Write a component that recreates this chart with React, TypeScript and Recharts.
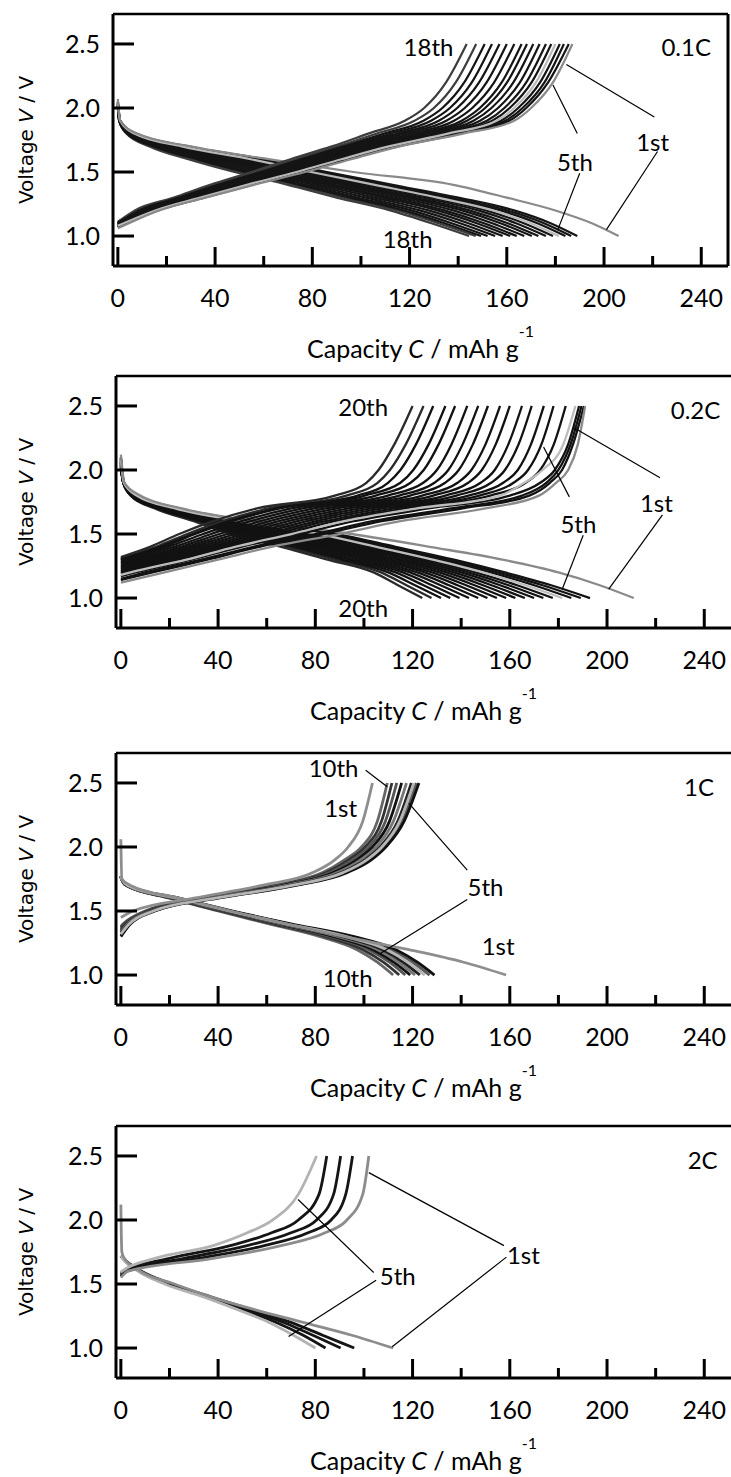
import React from 'react';
import { LineChart, Line, XAxis, YAxis, ReferenceDot, ReferenceLine } from 'recharts';

const FONT = "Lato, 'Open Sans', sans-serif";
const YLABEL_FONT = "'DejaVu Sans', Verdana, sans-serif";

const X_TICKS = [0, 20, 40, 60, 80, 100, 120, 140, 160, 180, 200, 220, 240];
const Y_TICKS = [1.0, 1.5, 2.0, 2.5];
const X_DOMAIN: [number, number] = [-2, 251];
const Y_DOMAIN: [number, number] = [0.766, 2.734];

type N = number | null;

// ---------------- Panel 1 : 0.1C (18 cycles) ----------------
const P1_CHG_LEVELS = [1.2, 1.3, 1.4, 1.5, 1.6, 1.7, 1.8, 1.9, 2.0, 2.2, 2.5];
const P1_CHG_START = [1.06, 1.07, 1.07, 1.07, 1.08, 1.08, 1.08, 1.08, 1.09, 1.09, 1.09, 1.09, 1.10, 1.10, 1.10, 1.10, 1.11, 1.11];
const P1_CHG_CAP: N[][] = [
  [17, 36, 56, 77, 96, 116, 142, 163, 170, 179, 187],
  [16.5, 35.5, 55, 76, 95, 115, 140.5, 161, 168, 177, 185.5],
  [16.2, 35, 54.6, 75.2, 94, 113.8, 138.9, 159.4, 166.5, 175.5, 183.5],
  [15.8, 34.4, 53.8, 74.4, 93, 112.6, 137.3, 157.6, 164.7, 173.7, 181.8],
  [15.4, 33.9, 53.1, 73.5, 92, 111.5, 135.8, 155.8, 163, 172, 180],
  [15, 33.4, 52.4, 72.6, 91, 110.4, 134.2, 154, 161.2, 170.2, 178.3],
  [14.5, 32.8, 51.5, 71.5, 89.8, 109, 132.3, 151.8, 159, 168, 176.1],
  [13.9, 32, 50.4, 70.2, 88.3, 107.3, 129.9, 149, 156.4, 165.4, 173.5],
  [13.3, 31.2, 49.3, 68.9, 86.8, 105.6, 127.6, 146.3, 153.7, 162.7, 170.9],
  [12.7, 30.4, 48.3, 67.5, 85.3, 104, 125.2, 143.6, 151.1, 160.1, 168.3],
  [12.2, 29.8, 47.4, 66.4, 84, 102.6, 123.3, 141.4, 148.9, 157.9, 166.1],
  [11.5, 28.8, 46.1, 64.9, 82.3, 100.6, 120.5, 138.3, 145.8, 154.8, 163.1],
  [10.8, 27.9, 44.8, 63.4, 80.5, 98.6, 117.8, 135.1, 142.7, 151.7, 160],
  [10.1, 27, 43.6, 61.8, 78.8, 96.7, 115.1, 132, 139.6, 148.6, 157],
  [9.4, 26.1, 42.3, 60.3, 77, 94.7, 112.4, 128.8, 136.6, 145.6, 153.9],
  [8.7, 25.2, 41.1, 58.7, 75.3, 92.8, 109.6, 125.7, 133.5, 142.5, 150.9],
  [7.9, 24.2, 39.6, 57, 73.3, 90.5, 106.5, 122, 130, 139, 147.4],
  [7, 23, 38, 55, 71, 88, 103, 118, 126, 135, 143.5],
];
const P1_DIS_LEVELS = [1.9, 1.8, 1.7, 1.6, 1.5, 1.4, 1.3, 1.2, 1.1, 1.0];
const P1_DIS_START = [2.07, 2.05, 2.05, 2.04, 2.04, 2.04, 2.03, 2.03, 2.03, 2.02, 2.02, 2.02, 2.01, 2.01, 2.01, 2.0, 2.0, 2.0];
const P1_DIS_CAP: N[][] = [
  [1, 8, 30, 62, 97, 138, 160, 180, 195, 206],
  [1, 7.5, 29, 60, 86, 113, 140, 163, 178, 189],
  [1, 7.3, 28.1, 58.3, 83.9, 110.6, 137.2, 160.1, 175.3, 186.5],
  [0.9, 7.1, 27.2, 56.6, 81.8, 108.3, 134.5, 157.4, 172.6, 184.1],
  [0.9, 6.8, 26.3, 54.7, 79.5, 105.7, 131.5, 154.3, 169.7, 181.4],
  [0.9, 6.6, 25.4, 53, 77.4, 103.3, 128.8, 151.5, 167, 179],
  [0.85, 6.3, 24.4, 51, 75, 100.5, 125.5, 148.2, 163.8, 176.1],
  [0.8, 6.1, 23.2, 48.8, 72.3, 97.5, 122, 144.6, 160.4, 173],
  [0.8, 5.8, 22.3, 47, 70, 95, 119, 141.6, 157.4, 170.3],
  [0.75, 5.5, 21.2, 44.8, 67.4, 92, 115.5, 138, 154, 167.2],
  [0.7, 5.3, 20, 42.6, 64.7, 88.9, 112, 134.4, 150.6, 164.1],
  [0.7, 5, 19.1, 40.8, 62.4, 86.3, 109, 131.4, 147.6, 161.4],
  [0.65, 4.7, 18, 38.6, 59.8, 83.3, 105.5, 127.8, 144.2, 158.3],
  [0.6, 4.5, 16.8, 36.4, 57.1, 80.3, 102, 124.2, 140.8, 155.2],
  [0.6, 4.2, 15.7, 34.3, 54.5, 77.3, 98.5, 120.7, 137.3, 152.1],
  [0.55, 3.9, 14.8, 32.4, 52.2, 74.7, 95.5, 117.6, 134.4, 149.4],
  [0.55, 3.7, 14, 30.9, 50.3, 72.6, 93, 115.1, 131.9, 147.2],
  [0.5, 3.5, 13, 29, 48, 70, 90, 112, 129, 144.5],
];
const P1_COLORS = ['#8a8a8a', '#151515', '#151515', '#151515', '#b9b9b9', '#151515', '#151515', '#151515', '#151515', '#151515', '#151515', '#151515', '#151515', '#151515', '#151515', '#151515', '#3d3d3d', '#3d3d3d'];
const P1_LIGHT = [4];
const P1_TEXTS = [
  { t: '18th', x: 127.8, y: 2.477 },
  { t: '18th', x: 119.2, y: 0.98 },
  { t: '5th', x: 188, y: 1.58 },
  { t: '1st', x: 220, y: 1.74 },
];
const P1_LEADERS = [
  [220.7, 1.93, 184.5, 2.34],
  [222, 1.66, 201, 1.05],
  [189, 1.8, 179, 2.18],
  [190, 1.49, 181, 1.05],
];

// ---------------- Panel 2 : 0.2C (20 cycles) ----------------
const P2_CHG_LEVELS = [1.2, 1.3, 1.4, 1.5, 1.6, 1.7, 1.8, 1.9, 2.0, 2.2, 2.5];
const P2_CHG_START = [1.12, 1.14, 1.15, 1.17, 1.18, 1.19, 1.20, 1.21, 1.22, 1.23, 1.24, 1.25, 1.26, 1.27, 1.28, 1.29, 1.30, 1.30, 1.31, 1.32];
const P2_CHG_CAP: N[][] = [
  [18, 40, 62, 90, 115, 150, 172, 179, 184, 188, 191],
  [13, 35.6, 57, 83.4, 107.3, 140.6, 168, 176.5, 181.5, 186, 190.5],
  [10, 33, 54.5, 80.1, 103.5, 135.9, 165, 175, 180, 185, 189.5],
  [6, 29, 49.5, 73.5, 95.8, 126.5, 160, 172.5, 178.5, 184, 188.5],
  [4, 27, 47, 70.2, 91.9, 121.8, 156, 166, 173.5, 182, 187],
  [2, 24, 44.5, 66.9, 88.1, 117.1, 152, 166.5, 172.5, 178.1, 183],
  [null, 22, 42, 63.6, 84.2, 112.4, 147.5, 161.5, 167.5, 173, 178],
  [null, 20, 39.5, 60.3, 80.4, 107.7, 143, 157.3, 163.3, 168.7, 174],
  [null, 18, 37, 57, 76.5, 103, 138, 152.3, 158, 163.6, 169],
  [null, 15.5, 34.5, 53.7, 72.7, 98.3, 133.5, 148, 153.8, 159.4, 165],
  [null, 13, 32, 50.4, 68.8, 93.6, 128.5, 142.9, 148.5, 154.2, 160],
  [null, 11, 29.5, 47.1, 65, 88.9, 124, 138.5, 144.2, 150, 156],
  [null, 9, 27, 43.8, 61.1, 84.2, 119, 133.4, 139, 144.8, 151],
  [null, 6.5, 24.5, 40.5, 57.3, 79.5, 114.5, 129, 134.7, 140.6, 147],
  [null, 4.5, 22, 37.2, 53.4, 74.8, 109.8, 124.4, 130, 136, 142.5],
  [null, 2.2, 19.5, 33.9, 49.6, 70.1, 104.8, 119.2, 124.6, 130.7, 137.5],
  [null, null, 17.5, 30.6, 45.7, 65.4, 100.3, 115, 120.3, 126.6, 133.5],
  [null, null, 16, 29.5, 44.5, 64, 97.4, 109.9, 115, 121.4, 128.5],
  [null, null, 14.5, 27.3, 41.9, 60.7, 92.8, 105.6, 110.7, 117.2, 124.5],
  [null, null, 12, 24, 38, 56, 88, 101, 106, 112.5, 120],
];
const P2_DIS_LEVELS = [1.9, 1.8, 1.7, 1.6, 1.5, 1.4, 1.3, 1.2, 1.1, 1.0];
const P2_DIS_START = [2.12, 2.10, 2.09, 2.09, 2.08, 2.08, 2.07, 2.07, 2.06, 2.06, 2.05, 2.05, 2.04, 2.04, 2.03, 2.03, 2.02, 2.02, 2.01, 2.01];
const P2_DIS_CAP: N[][] = [
  [1.5, 8, 25, 55, 95, 127, 157, 180, 197, 211],
  [1.3, 7, 24, 53, 89, 113, 137, 158, 177, 193],
  [1.3, 6.8, 23.4, 51.7, 86.6, 110.4, 134.1, 155, 173.5, 189.2],
  [1.2, 6.7, 22.9, 50.4, 84.1, 107.8, 131.2, 152, 170, 185.3],
  [1.2, 6.5, 22.3, 49.2, 81.7, 105.2, 128.3, 149, 166.5, 181.5],
  [1.2, 6.3, 21.8, 47.9, 79.2, 102.6, 125.5, 146, 163, 177.7],
  [1.2, 6.2, 21.2, 46.6, 76.8, 99.9, 122.5, 143, 159.5, 173.8],
  [1.2, 6, 20.7, 45.3, 74.3, 97.3, 119.7, 140, 156, 170],
  [1.1, 5.8, 20.1, 44.1, 71.9, 94.7, 116.8, 137, 152.5, 166.2],
  [1.1, 5.7, 19.6, 42.8, 69.5, 92.1, 113.9, 134, 149, 162.3],
  [1.1, 5.5, 19, 41.5, 67, 89.5, 111, 131, 145.5, 158.5],
  [1.1, 5.3, 18.4, 40.2, 64.5, 86.9, 108.1, 128, 142, 154.7],
  [1.1, 5.2, 17.9, 38.9, 62.1, 84.3, 105.2, 125, 138.5, 150.8],
  [1.1, 5, 17.3, 37.7, 59.7, 81.7, 102.3, 122, 135, 147],
  [1, 4.8, 16.8, 36.4, 57.2, 79.1, 99.5, 119, 131.5, 143.2],
  [1, 4.7, 16.2, 35.1, 54.8, 76.4, 96.5, 116, 128, 139.3],
  [1, 4.5, 15.7, 33.8, 52.3, 73.8, 93.7, 113, 124.5, 135.5],
  [1, 4.3, 15.1, 32.6, 49.9, 71.2, 90.8, 110, 121, 131.7],
  [1, 4.2, 14.6, 31.3, 47.5, 68.6, 87.9, 107, 117.5, 127.8],
  [1, 4, 14, 30, 45, 66, 85, 104, 114, 124],
];
const P2_COLORS = ['#8a8a8a', '#121212', '#121212', '#121212', '#bdbdbd', '#121212', '#121212', '#121212', '#121212', '#121212', '#121212', '#121212', '#121212', '#121212', '#121212', '#121212', '#121212', '#121212', '#2a2a2a', '#2a2a2a'];
const P2_LIGHT = [4];
const P2_TEXTS = [
  { t: '20th', x: 99.7, y: 2.496 },
  { t: '20th', x: 99.7, y: 0.93 },
  { t: '5th', x: 188.2, y: 1.58 },
  { t: '1st', x: 220.3, y: 1.75 },
];
const P2_LEADERS = [
  [221.8, 1.94, 186.4, 2.33],
  [222.8, 1.65, 200.7, 1.07],
  [184.5, 1.79, 173.9, 2.18],
  [190.2, 1.49, 181.6, 1.07],
];

// ---------------- Panel 3 : 1C (10 cycles) ----------------
const P3_CHG_LEVELS = [1.4, 1.5, 1.6, 1.7, 1.8, 1.9, 2.0, 2.2, 2.5];
const P3_CHG_START = [1.45, 1.30, 1.31, 1.32, 1.33, 1.34, 1.35, 1.36, 1.37, 1.38];
const P3_CHG_CAP: N[][] = [
  [null, 5, 30, 58, 79, 88, 93.5, 99.5, 103.5],
  [4, 14, 40, 72, 93, 103, 109, 116.5, 122.6],
  [3.7, 13.7, 39.4, 71.2, 92.2, 102.1, 108.2, 115.6, 121.5],
  [3.5, 13.4, 38.9, 70.4, 91.4, 101.2, 107.4, 114.7, 120.5],
  [3.3, 13, 38.3, 69.6, 90.6, 100.4, 106.6, 113.9, 119.5],
  [2.8, 12.4, 37.2, 68, 89, 98.6, 105, 112.1, 117.5],
  [2.4, 11.8, 36.2, 66.5, 87.5, 97, 103.5, 110.5, 115.5],
  [1.9, 11.2, 35.1, 65, 86, 95.3, 102, 108.8, 113.5],
  [1.5, 10.6, 34, 63.5, 84.5, 93.7, 100.5, 107.2, 111.5],
  [1, 10, 33, 62, 83, 92, 99, 105.5, 109.6],
];
const P3_DIS_LEVELS = [1.75, 1.7, 1.6, 1.5, 1.4, 1.3, 1.2, 1.1, 1.0];
const P3_DIS_START = [2.06, 1.77, 1.77, 1.77, 1.77, 1.77, 1.77, 1.77, 1.77, 1.77];
const P3_DIS_CAP: N[][] = [
  [0.4, 4, 24, 45, 68, 92, 118, 141, 158.5],
  [0.3, 3, 24, 46, 70, 96, 113, 122, 129],
  [0.3, 2.9, 23.5, 45.3, 68.9, 94.3, 111.1, 120, 127],
  [0.3, 2.8, 23.1, 44.6, 67.9, 92.7, 109.2, 118.1, 125],
  [0.3, 2.7, 22.6, 43.9, 66.9, 91.1, 107.4, 116.2, 123],
  [0.3, 2.5, 22.1, 43.2, 65.8, 89.4, 105.5, 114.2, 121],
  [0.3, 2.4, 21.6, 42.5, 64.7, 87.7, 103.6, 112.3, 119],
  [0.3, 2.3, 21.2, 41.8, 63.7, 86.2, 101.8, 110.5, 117],
  [0.3, 2.2, 20.6, 40.9, 62.4, 84.1, 99.4, 108, 114.5],
  [0.3, 2, 20, 40, 61, 82, 97, 105.5, 112],
];
const P3_COLORS = ['#8e8e8e', '#111111', '#5a5a5a', '#b6b6b6', '#222222', '#777777', '#111111', '#555555', '#333333', '#666666'];
const P3_LIGHT = [3];
const P3_TEXTS = [
  { t: '10th', x: 87.5, y: 2.62 },
  { t: '1st', x: 90.4, y: 2.31 },
  { t: '5th', x: 150, y: 1.69 },
  { t: '1st', x: 155.2, y: 1.23 },
  { t: '10th', x: 93.3, y: 0.98 },
];
const P3_LEADERS = [
  [100.7, 2.6, 109.6, 2.47],
  [142.5, 1.82, 118.5, 2.34],
  [142.5, 1.59, 106.9, 1.17],
];

// ---------------- Panel 4 : 2C (5 cycles) ----------------
const P4_CHG_LEVELS = [1.6, 1.7, 1.8, 1.9, 2.0, 2.2, 2.5];
const P4_CHG_START = [1.55, 1.56, 1.57, 1.58, 1.59];
const P4_CHG_CAP: N[][] = [
  [3, 38, 66, 84, 93, 99.5, 102],
  [2.5, 32, 59, 77, 86.5, 92.5, 95.3],
  [2, 26, 52, 70, 80.5, 87.5, 90.4],
  [1.5, 20, 45, 62, 73, 81.5, 84.7],
  [0.5, 14, 38, 52, 62.5, 73, 80.5],
];
const P4_DIS_LEVELS = [1.75, 1.7, 1.6, 1.5, 1.4, 1.3, 1.2, 1.1, 1.0];
const P4_DIS_START = [2.12, 1.72, 1.72, 1.72, 1.72];
const P4_DIS_CAP: N[][] = [
  [0.4, 1.5, 8, 22, 37, 55, 75, 95, 112],
  [null, 1, 8.5, 21, 37, 54, 70, 83, 96],
  [null, 0.9, 8, 20, 36, 52, 67, 79, 90.4],
  [null, 0.8, 7.5, 19, 35, 50, 64, 75, 84.2],
  [null, 0.7, 7, 18, 34, 48, 61, 71, 80],
];
const P4_COLORS = ['#8c8c8c', '#151515', '#151515', '#151515', '#b3b3b3'];
const P4_LIGHT = [4];
const P4_TEXTS = [
  { t: '1st', x: 165.6, y: 1.73 },
  { t: '5th', x: 113.9, y: 1.57 },
];
const P4_LEADERS = [
  [157.6, 1.8, 102, 2.37],
  [158.6, 1.71, 111.6, 1.01],
  [104, 1.59, 72.9, 2.16],
  [105, 1.53, 69, 1.09],
];

type Pt = { x: number; y: number };

function buildCurves(levels: number[], starts: number[], caps: N[][]): Pt[][] {
  return caps.map((row, i) => {
    const pts: Pt[] = [{ x: 0, y: starts[i] }];
    row.forEach((c, j) => {
      if (c !== null) pts.push({ x: c, y: levels[j] });
    });
    return pts;
  });
}

const XTick = (p: any) => {
  const v = Number(p.payload.value);
  const major = v % 40 === 0;
  return (
    <g>
      <line x1={p.x} x2={p.x} y1={p.y} y2={p.y - (major ? 19 : 10)} stroke="#000" strokeWidth={3} />
      {major ? (
        <text x={p.x} y={p.y + 41} textAnchor="middle" fontFamily={FONT} fontSize={25} fill="#000">
          {String(v)}
        </text>
      ) : null}
    </g>
  );
};

const YTick = (p: any) => (
  <g>
    <line x1={p.x} x2={p.x + 21} y1={p.y} y2={p.y} stroke="#000" strokeWidth={3} />
    <text x={p.x - 13} y={p.y + 9} textAnchor="end" fontFamily={FONT} fontSize={25} fill="#000">
      {Number(p.payload.value).toFixed(1)}
    </text>
  </g>
);

const XLabel = (props: any) => {
  const vb = props.viewBox || { x: 116, y: 266, width: 615, height: 110 };
  const cx = vb.x + vb.width / 2;
  return (
    <text x={cx} y={vb.y + 92} textAnchor="middle" fontFamily={FONT} fontSize={25} fill="#000">
      <tspan>{'Capacity '}</tspan>
      <tspan fontStyle="italic">{'C'}</tspan>
      <tspan>{' / mAh g'}</tspan>
      <tspan fontSize={16} dy={-21}>{'-1'}</tspan>
    </text>
  );
};

const YLabel = (props: any) => {
  const vb = props.viewBox || { x: 0, y: 20, width: 116, height: 252 };
  const cx = 33;
  const cy = vb.y + vb.height / 2;
  return (
    <text x={cx} y={cy} transform={`rotate(-90, ${cx}, ${cy})`} textAnchor="middle" fontFamily={YLABEL_FONT} fontSize={20} fill="#000">
      <tspan>{'Voltage '}</tspan>
      <tspan fontStyle="italic">{'V'}</tspan>
      <tspan>{' / V'}</tspan>
    </text>
  );
};

type PanelProps = {
  top: number;
  left: number;
  showRight: boolean;
  chg: Pt[][];
  dis: Pt[][];
  colors: string[];
  light: number[];
  lineWidth: number;
  texts: { t: string; x: number; y: number }[];
  leaders: number[][];
  rate: string;
  rateX: number;
  rateY: number;
};

function Panel(props: PanelProps) {
  const { top, left, showRight, chg, dis, colors, light, lineWidth, texts, leaders, rate, rateX, rateY } = props;
  const plotW = 615;
  const plotH = 252;
  const mTop = 20;
  const axisH = 112;
  const H = mTop + plotH + axisH;
  const rightMargin = 731 - left - plotW;
  const order: number[] = [];
  for (let i = chg.length - 1; i >= 1; i--) if (!light.includes(i)) order.push(i);
  for (let i = chg.length - 1; i >= 1; i--) if (light.includes(i)) order.push(i);
  order.push(0);

  const txt = (s: string, anchor: string) => (p: any) => (
    <text x={p.cx} y={p.cy} textAnchor={anchor} dominantBaseline="central" fontFamily={FONT} fontSize={24} fill="#000">
      {s}
    </text>
  );

  return (
    <div style={{ position: 'absolute', left: 0, top: top - mTop, width: 731, height: H }}>
      <LineChart width={731} height={H} margin={{ top: mTop, right: rightMargin, bottom: 0, left: 0 }}>
        <XAxis
          dataKey="x"
          type="number"
          domain={X_DOMAIN}
          allowDataOverflow
          ticks={X_TICKS}
          interval={0}
          tickLine={false}
          tickSize={0}
          tickMargin={0}
          tick={<XTick />}
          height={axisH}
          axisLine={{ stroke: '#000', strokeWidth: 3 }}
          label={<XLabel />}
        />
        <YAxis
          type="number"
          domain={Y_DOMAIN}
          allowDataOverflow
          ticks={Y_TICKS}
          interval={0}
          tickLine={false}
          tickSize={0}
          tickMargin={0}
          tick={<YTick />}
          width={left}
          axisLine={{ stroke: '#000', strokeWidth: 3 }}
          label={<YLabel />}
        />
        {order.map((i) => (
          <Line
            key={'d' + i}
            data={dis[i]}
            dataKey="y"
            type="monotone"
            stroke={colors[i]}
            strokeWidth={lineWidth}
            dot={false}
            activeDot={false}
            isAnimationActive={false}
          />
        ))}
        {order.map((i) => (
          <Line
            key={'c' + i}
            data={chg[i]}
            dataKey="y"
            type="monotone"
            stroke={colors[i]}
            strokeWidth={lineWidth}
            dot={false}
            activeDot={false}
            isAnimationActive={false}
          />
        ))}
        <ReferenceLine y={Y_DOMAIN[1]} stroke="#000" strokeWidth={2.6} ifOverflow="visible" />
        {showRight ? <ReferenceLine x={X_DOMAIN[1]} stroke="#000" strokeWidth={3} ifOverflow="visible" /> : null}
        {leaders.map((l, k) => (
          <ReferenceLine
            key={'l' + k}
            segment={[{ x: l[0], y: l[1] }, { x: l[2], y: l[3] }]}
            stroke="#000"
            strokeWidth={1.2}
            ifOverflow="visible"
          />
        ))}
        {texts.map((t, k) => (
          <ReferenceDot key={'t' + k} x={t.x} y={t.y} r={0} ifOverflow="visible" shape={txt(t.t, 'middle')} />
        ))}
        <ReferenceDot x={rateX} y={rateY} r={0} ifOverflow="visible" shape={txt(rate, 'end')} />
      </LineChart>
    </div>
  );
}

export default function App() {
  const p1c = buildCurves(P1_CHG_LEVELS, P1_CHG_START, P1_CHG_CAP);
  const p1d = buildCurves(P1_DIS_LEVELS, P1_DIS_START, P1_DIS_CAP);
  const p2c = buildCurves(P2_CHG_LEVELS, P2_CHG_START, P2_CHG_CAP);
  const p2d = buildCurves(P2_DIS_LEVELS, P2_DIS_START, P2_DIS_CAP);
  const p3c = buildCurves(P3_CHG_LEVELS, P3_CHG_START, P3_CHG_CAP);
  const p3d = buildCurves(P3_DIS_LEVELS, P3_DIS_START, P3_DIS_CAP);
  const p4c = buildCurves(P4_CHG_LEVELS, P4_CHG_START, P4_CHG_CAP);
  const p4d = buildCurves(P4_DIS_LEVELS, P4_DIS_START, P4_DIS_CAP);
  return (
    <div style={{ position: 'absolute', left: 0, top: 0, width: 731, height: 1477, background: '#fff', overflow: 'hidden' }}>
      <Panel top={14} left={113} showRight chg={p1c} dis={p1d} colors={P1_COLORS} light={P1_LIGHT} lineWidth={2.2} texts={P1_TEXTS} leaders={P1_LEADERS} rate="0.1C" rateX={244} rateY={2.48} />
      <Panel top={376} left={116} showRight={false} chg={p2c} dis={p2d} colors={P2_COLORS} light={P2_LIGHT} lineWidth={2.3} texts={P2_TEXTS} leaders={P2_LEADERS} rate="0.2C" rateX={246.6} rateY={2.475} />
      <Panel top={753} left={116} showRight={false} chg={p3c} dis={p3d} colors={P3_COLORS} light={P3_LIGHT} lineWidth={2.8} texts={P3_TEXTS} leaders={P3_LEADERS} rate="1C" rateX={244} rateY={2.475} />
      <Panel top={1126} left={116} showRight={false} chg={p4c} dis={p4d} colors={P4_COLORS} light={P4_LIGHT} lineWidth={2.8} texts={P4_TEXTS} leaders={P4_LEADERS} rate="2C" rateX={245.5} rateY={2.47} />
    </div>
  );
}
